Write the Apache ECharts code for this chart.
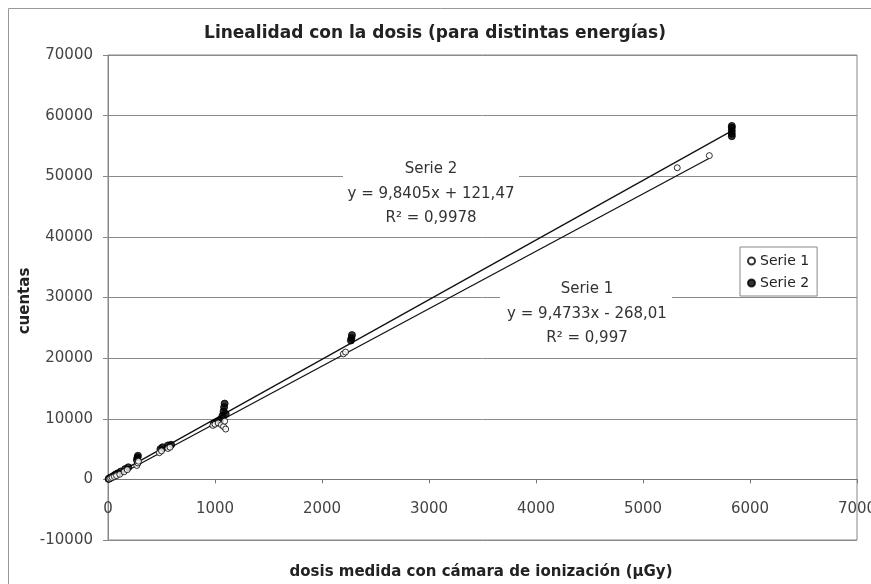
<!DOCTYPE html>
<html>
<head>
<meta charset="utf-8">
<script src="https://cdn.jsdelivr.net/npm/echarts@6/dist/echarts.min.js"></script>
<style>html,body{margin:0;padding:0;background:#fff;}#c{width:871px;height:584px;}</style>
</head>
<body>
<div id="c"></div>
<script>
// Serie 1 (open circles): [dose µGy, counts]
const serie1 = [
  [10,60],[25,180],[40,300],[60,450],[80,620],[110,850],[150,1250],[180,1600],
  [270,2300],[280,2700],[285,3000],
  [480,4400],[500,4700],[560,5100],[580,5300],
  [980,8900],[1000,9100],[1030,9300],[1060,9000],[1080,8700],[1100,8300],[1090,9600],
  [2200,20700],[2220,21000],
  [5320,51400],[5620,53400]
];
// Serie 2 (filled circles)
const serie2 = [
  [5,80],[15,200],[30,350],[50,550],[70,800],[90,1000],[120,1300],[160,1700],[190,2000],
  [270,3200],[275,3600],[280,3900],
  [490,5000],[510,5300],[560,5600],[590,5700],
  [990,9200],[1020,9500],[1050,9800],[1070,10500],[1080,11200],[1085,11900],[1090,12500],[1100,10800],
  [2270,22900],[2275,23300],[2280,23800],
  [5830,56600],[5830,57000],[5830,57500],[5830,58000],[5830,58300]
];
// Trendline coefficients as printed on the chart
const trend1 = {slope: 9.4733, intercept: -268.01, xStart: 0, xEnd: 5620};
const trend2 = {slope: 9.8405, intercept: 121.47, xStart: 0, xEnd: 5830};
const trendLabels1 = ["Serie 1", "y = 9,4733x - 268,01", "R² = 0,997"];
const trendLabels2 = ["Serie 2", "y = 9,8405x + 121,47", "R² = 0,9978"];
const xTicks = {min: 0, max: 7000, interval: 1000};
const yTicks = {min: -10000, max: 70000, interval: 10000};

function endpoints(t){
  return [[t.xStart, t.slope*t.xStart + t.intercept],[t.xEnd, t.slope*t.xEnd + t.intercept]];
}

const FONT = '"DejaVu Sans", Verdana, sans-serif';
const chart = echarts.init(document.getElementById('c'), null, {renderer:'canvas'});
chart.setOption({
  backgroundColor: '#fff',
  animation: false,
  textStyle: {fontFamily: FONT},
  title: {
    text: 'Linealidad con la dosis (para distintas energías)',
    left: 430, top: 20, textAlign: 'center',
    textStyle: {fontSize: 17, fontWeight: 'bold', color: '#222', fontFamily: FONT}
  },
  grid: {left: 108, right: 14, top: 55, bottom: 44, show: true, borderColor: '#888', borderWidth: 1,
         containLabel: false, outerBoundsMode: 'none'},
  legend: {
    orient: 'vertical', left: 740, top: 247,
    data: ['Serie 1', 'Serie 2'],
    borderColor: '#888', borderWidth: 1, padding: [7, 8, 6, 7],
    itemGap: 8, itemWidth: 7, itemHeight: 7,
    textStyle: {fontSize: 14, color: '#222', fontFamily: FONT}
  },
  xAxis: {
    type: 'value', min: xTicks.min, max: xTicks.max, interval: xTicks.interval,
    axisLine: {show: true, onZero: true, lineStyle: {color: '#777', width: 1}},
    axisTick: {show: true, inside: false, length: 4, lineStyle: {color: '#777'}},
    axisLabel: {margin: -38, fontSize: 15, color: '#444', fontFamily: FONT,
                formatter: v => String(v)},
    splitLine: {show: false}
  },
  yAxis: {
    type: 'value', min: yTicks.min, max: yTicks.max, interval: yTicks.interval,
    axisLine: {show: true, onZero: false, lineStyle: {color: '#888', width: 1}},
    axisTick: {show: true, inside: false, length: 5, lineStyle: {color: '#888'}},
    axisLabel: {margin: 15, fontSize: 15, color: '#444', fontFamily: FONT,
                formatter: v => String(v)},
    splitLine: {show: true, lineStyle: {color: '#8a8a8a', width: 1}}
  },
  series: [
    {name: 'Tendencia 1', type: 'line', data: endpoints(trend1), symbol: 'none', silent: true,
     lineStyle: {color: '#111', width: 1.3}, z: 2},
    {name: 'Tendencia 2', type: 'line', data: endpoints(trend2), symbol: 'none', silent: true,
     lineStyle: {color: '#111', width: 1.3}, z: 2},
    {name: 'Serie 1', type: 'scatter', data: serie1, symbol: 'circle', symbolSize: 6,
     itemStyle: {color: '#fff', borderColor: '#000', borderWidth: 1}, z: 4},
    {name: 'Serie 2', type: 'scatter', data: serie2, symbol: 'circle', symbolSize: 7,
     itemStyle: {color: '#000', borderColor: '#000', borderWidth: 1}, z: 3}
  ],
  graphic: [
    {type: 'rect', position: [8.5, 8.5], shape: {x: 0, y: 0, width: 900, height: 600}, silent: true, z: -10,
     style: {fill: 'none', stroke: '#999', lineWidth: 1}},
    {type: 'rect', position: [343, 153], shape: {x: 0, y: 0, width: 176, height: 76}, z: 50,
     style: {fill: '#fff'}},
    {type: 'text', z: 51, position: [431, 157],
     style: {text: trendLabels2.join('\n'), textAlign: 'center', lineHeight: 24.5,
             fill: '#333', font: '15px ' + FONT}},
    {type: 'rect', position: [500, 274], shape: {x: 0, y: 0, width: 172, height: 76}, z: 50,
     style: {fill: '#fff'}},
    {type: 'text', z: 51, position: [587, 277],
     style: {text: trendLabels1.join('\n'), textAlign: 'center', lineHeight: 24.5,
             fill: '#333', font: '15px ' + FONT}},
    {type: 'text', z: 51, position: [481, 572],
     style: {text: 'dosis medida con cámara de ionización (µGy)', textAlign: 'center', textVerticalAlign: 'middle',
             fill: '#222', font: 'bold 15px ' + FONT}},
    {type: 'text', z: 51, position: [25, 301], rotation: Math.PI/2,
     style: {text: 'cuentas', textAlign: 'center', textVerticalAlign: 'middle',
             fill: '#222', font: 'bold 15px ' + FONT}}
  ]
});
</script>
</body>
</html>
